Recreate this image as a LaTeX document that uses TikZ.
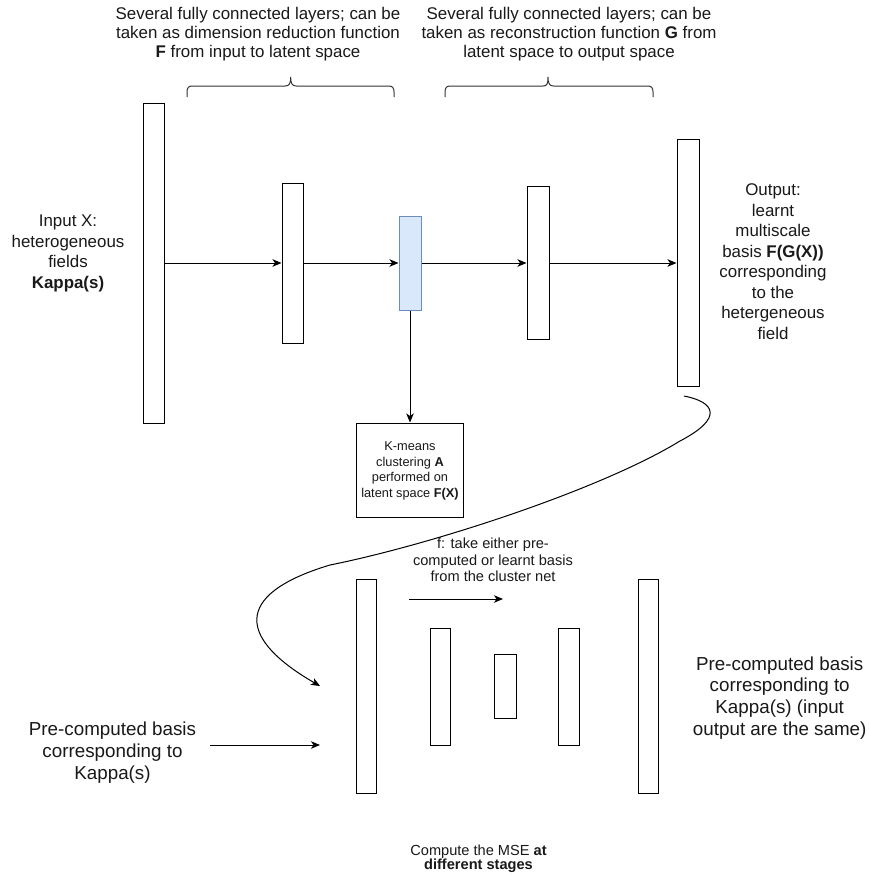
\documentclass[tikz,border=0pt]{standalone}
\usepackage{fontspec}
\setmainfont{Liberation Sans}
\usetikzlibrary{arrows.meta}
\definecolor{latFill}{HTML}{DAE8FC}
\definecolor{latLine}{HTML}{6C8EBF}
\begin{document}
\begin{tikzpicture}[x=1pt,y=-1pt,
  layerbox/.style={draw=black, line width=1pt, fill=white, inner sep=0pt, minimum width=#1},
  latentbox/.style={draw=latLine, line width=1pt, fill=latFill, inner sep=0pt, minimum width=#1},
  conn/.style={draw=black, line width=1pt, -{Stealth[length=9pt,width=7.5pt,inset=2.5pt]}},
  brace/.style={draw=black!80, line width=1pt},
  lbl/.style={align=center, inner sep=0pt, text=black!90},
  bigtxt/.style={lbl, font=\fontsize{16.9}{19.2}\selectfont},
  midtxt/.style={lbl, font=\fontsize{16.9}{20.5}\selectfont},
  kmtxt/.style={lbl, font=\fontsize{12.8}{15.5}\selectfont},
  ftxt/.style={lbl, font=\fontsize{14.6}{16.4}\selectfont},
  hugetxt/.style={lbl, font=\fontsize{18.8}{21.8}\selectfont},
  msetxt/.style={lbl, font=\fontsize{14.6}{14.5}\selectfont}
]
\path[use as bounding box, fill=white] (0,0) rectangle (868,875);

% top descriptions
\node[bigtxt] (topL) at (258,34) {Several fully connected layers; can be\\taken as dimension reduction function\\\textbf{F} from input to latent space};
\node[bigtxt] (topR) at (569,34) {Several fully connected layers; can be\\taken as reconstruction function \textbf{G} from\\latent space to output space};

% braces
\draw[brace] (187,97) -- (187,92) .. controls (187,88) and (188.5,86) .. (192,86) -- (285,86)
  .. controls (289,86) and (290.7,84) .. (290.7,77) .. controls (290.7,84) and (292.4,86) .. (296.4,86)
  -- (389,86) .. controls (392.5,86) and (394,88) .. (394,92) -- (394,97);
\draw[brace] (445,97) -- (445,92) .. controls (445,88) and (446.5,86) .. (450,86) -- (543,86)
  .. controls (547,86) and (548,84) .. (548,77) .. controls (548,84) and (549.7,86) .. (553.7,86)
  -- (648,86) .. controls (651.5,86) and (653,88) .. (653,92) -- (653,97);

% upper network
\node[layerbox=21pt, minimum height=320pt] (inL) at (153.5,263) {};
\node[layerbox=21pt, minimum height=160pt] (h1) at (292.5,263) {};
\node[latentbox=22pt, minimum height=94pt] (lat) at (410,263) {};
\node[layerbox=22pt, minimum height=153pt] (h2) at (538,263) {};
\node[layerbox=22pt, minimum height=247pt] (outL) at (688,263) {};

\node[midtxt] (inTxt) at (68,253.5) {Input X:\\heterogeneous\\fields\\\textbf{Kappa(s)}};
\node[midtxt] (outTxt) at (773,261.5) {Output:\\learnt\\multiscale\\basis \textbf{F(G(X))}\\corresponding\\to the\\hetergeneous\\field};

\draw[conn] (inL) -- (h1);
\draw[conn] (h1) -- (lat);
\draw[conn] (lat) -- (h2);
\draw[conn] (h2) -- (outL);

% k-means box
\node[layerbox=107pt, minimum height=94pt] (km) at (410,470) {};
\node[kmtxt] (kmTxt) at (410,471) {K-means\\clustering \textbf{A}\\performed on\\latent space \textbf{F(X)}};
\draw[conn] (lat) -- (km);

% lower network
\node[layerbox=20pt, minimum height=214pt] (bA) at (366.7,686) {};
\node[layerbox=20.3pt, minimum height=117pt] (bB) at (440.8,686.5) {};
\node[layerbox=22pt, minimum height=64pt] (bC) at (505,686) {};
\node[layerbox=20.6pt, minimum height=117pt] (bD) at (569,686.5) {};
\node[layerbox=20.7pt, minimum height=214pt] (bE) at (648.6,686) {};

\node[ftxt] (fTxt) at (493,560) {f: take either pre-\\computed or learnt basis\\from the cluster net};
\coordinate (fS) at (409,599);
\coordinate (fE) at (503,599);
\draw[conn] (fS) -- (fE);

\node[hugetxt] (preL) at (112.5,752.8) {Pre-computed basis\\corresponding to\\Kappa(s)};
\node[hugetxt] (preR) at (779.7,698) {Pre-computed basis\\corresponding to\\Kappa(s) (input\\output are the same)};
\coordinate (lS) at (210,745);
\coordinate (lE) at (320,745);
\draw[conn] (lS) -- (lE);

% curved link from output to lower net
\coordinate (cS) at (684,396);
\coordinate (cE) at (320,686);
\draw[conn] (cS) .. controls (715,402) and (724,418) .. (680,441)
  .. controls (600,490) and (430,545) .. (330,565)
  .. controls (230,595) and (240,640) .. (cE);

\node[msetxt] (mse) at (478.5,858.7) {Compute the MSE \textbf{at}\\\textbf{different stages}};
\end{tikzpicture}
\end{document}
